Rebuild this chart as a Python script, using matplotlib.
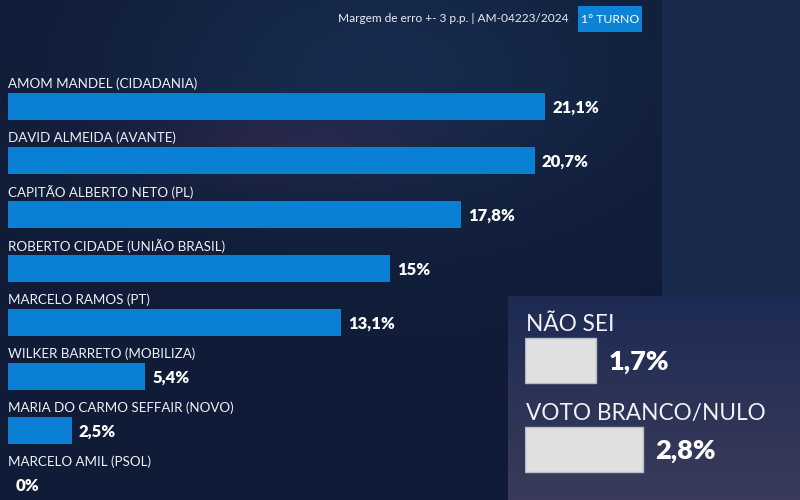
import numpy as np
import matplotlib.pyplot as plt
from matplotlib.patches import Rectangle

# Poll data (1o turno, Manaus)
candidates = [
    "AMOM MANDEL (CIDADANIA)",
    "DAVID ALMEIDA (AVANTE)",
    "CAPITÃO ALBERTO NETO (PL)",
    "ROBERTO CIDADE (UNIÃO BRASIL)",
    "MARCELO RAMOS (PT)",
    "WILKER BARRETO (MOBILIZA)",
    "MARIA DO CARMO SEFFAIR (NOVO)",
    "MARCELO AMIL (PSOL)",
]
values = [21.1, 20.7, 17.8, 15.0, 13.1, 5.4, 2.5, 0.0]
value_labels = ["21,1%", "20,7%", "17,8%", "15%", "13,1%", "5,4%", "2,5%", "0%"]

other_cats = ["NÃO SEI", "VOTO BRANCO/NULO"]
other_values = [1.7, 2.8]
other_labels = ["1,7%", "2,8%"]

header_text = "Margem de erro +- 3 p.p. | AM-04223/2024"
badge_text = "1° TURNO"

# Style
W, H, DPI = 800, 500, 100
BAR_COLOR = "#0a80d4"
BG_COLOR = "#101c37"
FONT = "Lato"

plt.rcParams["font.family"] = [FONT, "DejaVu Sans"]

fig = plt.figure(figsize=(W / DPI, H / DPI), dpi=DPI)

# ---- background (pixel coordinates)
bg = fig.add_axes([0, 0, 1, 1])
bg.set_xlim(0, W)
bg.set_ylim(H, 0)
bg.axis("off")

yy, xx = np.mgrid[0:H, 0:W]
base = np.array([0x10, 0x1c, 0x37]) / 255.0
img = np.ones((H, W, 3)) * base
# soft glows
glow_blue = np.exp(-(((xx - 380) / 260.0) ** 2 + ((yy - 70) / 150.0) ** 2))
glow_red = np.exp(-(((xx - 280) / 140.0) ** 2 + ((yy - 145) / 35.0) ** 2))
img += glow_blue[..., None] * np.array([0.03, 0.06, 0.09])
img += glow_red[..., None] * np.array([0.08, 0.00, 0.02])
img = np.clip(img, 0, 1)
bg.imshow(img, extent=[0, W, H, 0], aspect="auto", zorder=0)

# top-right panel
bg.add_patch(Rectangle((662, 0), W - 662, 296, facecolor="#1a2a4c", edgecolor="none", zorder=1))
# bottom-right panel with vertical gradient
grad = np.linspace(0, 1, 204)[:, None]
top_c = np.array([0x1d, 0x2b, 0x54]) / 255.0
bot_c = np.array([0x3a, 0x3b, 0x5a]) / 255.0
panel = (top_c * (1 - grad[..., None]) + bot_c * grad[..., None]) * np.ones((1, 292, 1))
bg.imshow(panel, extent=[508, 800, 500, 296], aspect="auto", zorder=1)
bg.set_xlim(0, W)
bg.set_ylim(H, 0)

# header
bg.text(568, 19, header_text, color="#e8ecf2", fontsize=8.6, ha="right", va="center", zorder=3)
bg.add_patch(Rectangle((578, 6), 64, 26, facecolor="#0b84d8", edgecolor="none", zorder=2))
bg.text(610, 19.5, badge_text, color="white", fontsize=8.8, ha="center", va="center", zorder=3)

# ---- main bars
PX_PER_PCT = 25.45
LEFT_PX = 8
PITCH = 54.0
FIRST_CENTER = 106.5

ax = fig.add_axes([LEFT_PX / W, 0, (W - LEFT_PX) / W, 1])
ax.set_xlim(0, (W - LEFT_PX) / PX_PER_PCT)
ax.set_ylim((H - FIRST_CENTER) / PITCH, -FIRST_CENTER / PITCH)
ax.axis("off")
ax.patch.set_alpha(0)

pos = np.arange(len(candidates))
ax.barh(pos, values, height=0.5, color=BAR_COLOR, zorder=2)
for i, (name, v, lab) in enumerate(zip(candidates, values, value_labels)):
    ax.text(0, i - 0.42, name, color="#eef1f6", fontsize=9.6, ha="left", va="center")
    ax.text(v + 0.28, i + 0.02, lab, color="white", fontsize=12, fontweight="heavy",
            ha="left", va="center")

# ---- "não sei" / branco-nulo boxes
PX2 = 42.0
LEFT2 = 525
PITCH2 = 89.0
CENTER2 = 360.5
ax2 = fig.add_axes([LEFT2 / W, 0, (W - LEFT2) / W, 1])
ax2.set_xlim(0, (W - LEFT2) / PX2)
ax2.set_ylim((H - CENTER2) / PITCH2, -CENTER2 / PITCH2)
ax2.axis("off")
ax2.patch.set_alpha(0)

pos2 = np.arange(len(other_cats))
ax2.barh(pos2, other_values, height=45 / PITCH2, color="#e0e0e0",
         edgecolor="#b8bcc4", linewidth=1, zorder=2)
for i, (name, v, lab) in enumerate(zip(other_cats, other_values, other_labels)):
    ax2.text(0.02, i - 0.405, name, color="#f0f2f6", fontsize=16.3, ha="left", va="center")
    ax2.text(v + 0.3, i + 0.02, lab, color="white", fontsize=19.5, fontweight="heavy",
             ha="left", va="center")

fig.savefig("out.png", dpi=DPI, facecolor=BG_COLOR)
